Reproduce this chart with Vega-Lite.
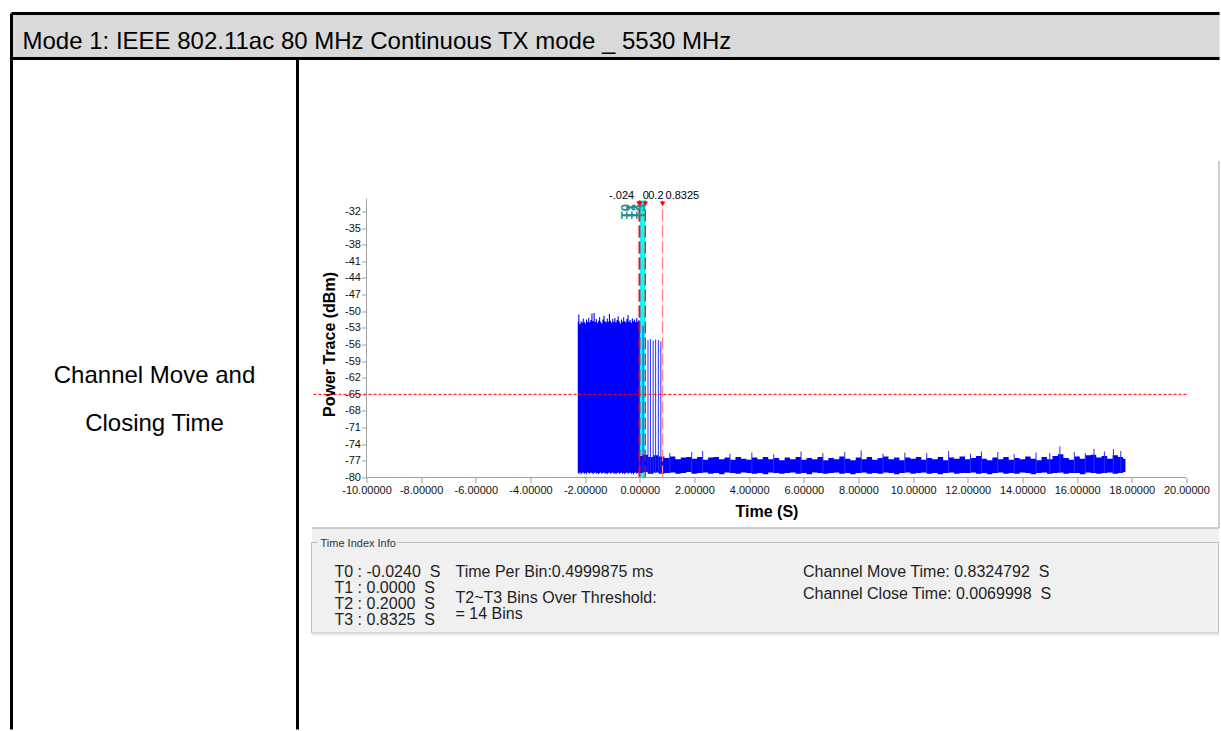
{
  "$schema": "https://vega.github.io/schema/vega-lite/v6.json",
  "padding": {"left": 9.5, "top": 11.5, "right": 0, "bottom": 0},
  "background": "#ffffff",
  "config": {"font": "Liberation Sans", "view": {"stroke": null}, "axis": {"labelOverlap": false}},
  "datasets": {
    "markers": [
      {"marker": "T0", "t": -0.024, "label": "-.024"},
      {"marker": "T1", "t": 0, "label": "0"},
      {"marker": "T2", "t": 0.2, "label": "0.2"},
      {"marker": "T3", "t": 0.8325, "label": "0.8325"}
    ],
    "active": [
      {"t":-2.27,"hi":-51.9,"lo":-79.2},{"t":-2.23,"hi":-50.6,"lo":-79.3},{"t":-2.19,"hi":-52.3,"lo":-79.1},
      {"t":-2.15,"hi":-51.8,"lo":-79.4},{"t":-2.11,"hi":-52.1,"lo":-79.2},{"t":-2.07,"hi":-51.3,"lo":-79.1},
      {"t":-2.03,"hi":-51.9,"lo":-79.3},{"t":-1.99,"hi":-52.2,"lo":-79.2},{"t":-1.95,"hi":-51.5,"lo":-79.4},
      {"t":-1.91,"hi":-51.9,"lo":-79.1},{"t":-1.87,"hi":-51.2,"lo":-79.2},{"t":-1.83,"hi":-52.0,"lo":-79.3},
      {"t":-1.79,"hi":-51.6,"lo":-79.1},{"t":-1.75,"hi":-50.4,"lo":-79.2},{"t":-1.71,"hi":-51.8,"lo":-79.4},
      {"t":-1.67,"hi":-50.3,"lo":-79.2},{"t":-1.63,"hi":-51.9,"lo":-79.1},{"t":-1.59,"hi":-51.4,"lo":-79.3},
      {"t":-1.55,"hi":-52.1,"lo":-79.2},{"t":-1.51,"hi":-51.7,"lo":-79.4},{"t":-1.47,"hi":-51.1,"lo":-79.2},
      {"t":-1.43,"hi":-51.9,"lo":-79.1},{"t":-1.39,"hi":-52.2,"lo":-79.3},{"t":-1.35,"hi":-51.5,"lo":-79.2},
      {"t":-1.31,"hi":-50.8,"lo":-79.1},{"t":-1.27,"hi":-51.8,"lo":-79.3},{"t":-1.23,"hi":-52.0,"lo":-79.2},
      {"t":-1.19,"hi":-51.3,"lo":-79.4},{"t":-1.15,"hi":-51.9,"lo":-79.2},{"t":-1.11,"hi":-50.5,"lo":-79.1},
      {"t":-1.07,"hi":-51.7,"lo":-79.3},{"t":-1.03,"hi":-52.1,"lo":-79.2},{"t":-0.99,"hi":-51.4,"lo":-79.1},
      {"t":-0.95,"hi":-51.9,"lo":-79.3},{"t":-0.91,"hi":-51.2,"lo":-79.2},{"t":-0.87,"hi":-52.0,"lo":-79.4},
      {"t":-0.83,"hi":-51.6,"lo":-79.2},{"t":-0.79,"hi":-50.9,"lo":-79.1},{"t":-0.75,"hi":-51.8,"lo":-79.3},
      {"t":-0.71,"hi":-52.2,"lo":-79.2},{"t":-0.67,"hi":-51.5,"lo":-79.1},{"t":-0.63,"hi":-51.9,"lo":-79.3},
      {"t":-0.59,"hi":-51.1,"lo":-79.2},{"t":-0.55,"hi":-51.8,"lo":-79.4},{"t":-0.51,"hi":-52.0,"lo":-79.2},
      {"t":-0.47,"hi":-51.4,"lo":-79.1},{"t":-0.43,"hi":-50.7,"lo":-79.3},{"t":-0.39,"hi":-51.9,"lo":-79.2},
      {"t":-0.35,"hi":-51.6,"lo":-79.1},{"t":-0.31,"hi":-52.1,"lo":-79.3},{"t":-0.27,"hi":-51.3,"lo":-79.2},
      {"t":-0.23,"hi":-51.8,"lo":-79.4},{"t":-0.19,"hi":-51.5,"lo":-79.2},{"t":-0.15,"hi":-52.0,"lo":-79.1},
      {"t":-0.11,"hi":-51.2,"lo":-79.3},{"t":-0.07,"hi":-51.9,"lo":-79.2},{"t":-0.03,"hi":-51.6,"lo":-79.1},
      {"t":0.0,"hi":-51.8,"lo":-79.2}
    ],
    "noise": [
      {"t":0.0,"hi":-76.1,"lo":-79.2},{"t":0.2,"hi":-75.9,"lo":-79.0},{"t":0.4,"hi":-76.3,"lo":-79.3},
      {"t":0.6,"hi":-76.0,"lo":-79.1},{"t":0.8,"hi":-76.2,"lo":-79.3},{"t":1.0,"hi":-76.5,"lo":-79.2},
      {"t":1.2,"hi":-76.2,"lo":-79.1},{"t":1.4,"hi":-76.7,"lo":-79.3},{"t":1.6,"hi":-76.4,"lo":-79.2},
      {"t":1.8,"hi":-76.3,"lo":-79.0},{"t":2.0,"hi":-76.6,"lo":-79.3},{"t":2.2,"hi":-76.3,"lo":-79.2},
      {"t":2.4,"hi":-76.8,"lo":-79.1},{"t":2.6,"hi":-76.4,"lo":-79.3},{"t":2.8,"hi":-76.3,"lo":-79.2},
      {"t":3.0,"hi":-76.7,"lo":-79.4},{"t":3.2,"hi":-76.4,"lo":-79.1},{"t":3.4,"hi":-76.8,"lo":-79.2},
      {"t":3.6,"hi":-76.3,"lo":-79.3},{"t":3.8,"hi":-76.6,"lo":-79.1},{"t":4.0,"hi":-76.8,"lo":-79.2},
      {"t":4.2,"hi":-76.4,"lo":-79.3},{"t":4.4,"hi":-76.7,"lo":-79.2},{"t":4.6,"hi":-76.3,"lo":-79.4},
      {"t":4.8,"hi":-76.7,"lo":-79.1},{"t":5.0,"hi":-76.5,"lo":-79.2},{"t":5.2,"hi":-76.9,"lo":-79.3},
      {"t":5.4,"hi":-76.4,"lo":-79.2},{"t":5.6,"hi":-76.7,"lo":-79.1},{"t":5.8,"hi":-76.3,"lo":-79.3},
      {"t":6.0,"hi":-76.8,"lo":-79.2},{"t":6.2,"hi":-76.5,"lo":-79.4},{"t":6.4,"hi":-76.7,"lo":-79.1},
      {"t":6.6,"hi":-76.3,"lo":-79.2},{"t":6.8,"hi":-76.9,"lo":-79.3},{"t":7.0,"hi":-76.5,"lo":-79.2},
      {"t":7.2,"hi":-76.7,"lo":-79.1},{"t":7.4,"hi":-76.2,"lo":-79.3},{"t":7.6,"hi":-76.6,"lo":-79.2},
      {"t":7.8,"hi":-76.9,"lo":-79.4},{"t":8.0,"hi":-76.4,"lo":-79.2},{"t":8.2,"hi":-76.7,"lo":-79.1},
      {"t":8.4,"hi":-76.3,"lo":-79.3},{"t":8.6,"hi":-76.8,"lo":-79.2},{"t":8.8,"hi":-76.5,"lo":-79.3},
      {"t":9.0,"hi":-76.2,"lo":-79.1},{"t":9.2,"hi":-76.7,"lo":-79.2},{"t":9.4,"hi":-76.4,"lo":-79.4},
      {"t":9.6,"hi":-76.9,"lo":-79.2},{"t":9.8,"hi":-76.4,"lo":-79.1},{"t":10.0,"hi":-76.6,"lo":-79.3},
      {"t":10.2,"hi":-76.3,"lo":-79.2},{"t":10.4,"hi":-76.8,"lo":-79.1},{"t":10.6,"hi":-76.5,"lo":-79.3},
      {"t":10.8,"hi":-76.7,"lo":-79.2},{"t":11.0,"hi":-76.3,"lo":-79.4},{"t":11.2,"hi":-76.9,"lo":-79.2},
      {"t":11.4,"hi":-76.4,"lo":-79.1},{"t":11.6,"hi":-76.6,"lo":-79.3},{"t":11.8,"hi":-76.2,"lo":-79.2},
      {"t":12.0,"hi":-76.7,"lo":-79.2},{"t":12.2,"hi":-76.5,"lo":-79.1},{"t":12.4,"hi":-76.1,"lo":-79.3},
      {"t":12.6,"hi":-76.6,"lo":-79.2},{"t":12.8,"hi":-76.9,"lo":-79.4},{"t":13.0,"hi":-76.4,"lo":-79.2},
      {"t":13.2,"hi":-76.7,"lo":-79.1},{"t":13.4,"hi":-76.3,"lo":-79.3},{"t":13.6,"hi":-76.8,"lo":-79.2},
      {"t":13.8,"hi":-76.5,"lo":-79.3},{"t":14.0,"hi":-76.7,"lo":-79.1},{"t":14.2,"hi":-76.2,"lo":-79.2},
      {"t":14.4,"hi":-76.6,"lo":-79.4},{"t":14.6,"hi":-76.9,"lo":-79.2},{"t":14.8,"hi":-76.3,"lo":-79.1},
      {"t":15.0,"hi":-76.7,"lo":-79.3},{"t":15.2,"hi":-76.1,"lo":-79.2},{"t":15.4,"hi":-75.8,"lo":-79.1},
      {"t":15.6,"hi":-76.5,"lo":-79.3},{"t":15.8,"hi":-76.8,"lo":-79.2},{"t":16.0,"hi":-76.2,"lo":-79.2},
      {"t":16.2,"hi":-76.6,"lo":-79.4},{"t":16.4,"hi":-76.0,"lo":-79.1},{"t":16.6,"hi":-75.9,"lo":-79.2},
      {"t":16.8,"hi":-76.4,"lo":-79.3},{"t":17.0,"hi":-76.1,"lo":-79.2},{"t":17.2,"hi":-76.6,"lo":-79.1},
      {"t":17.4,"hi":-76.0,"lo":-79.3},{"t":17.6,"hi":-76.3,"lo":-79.2},{"t":17.77,"hi":-76.6,"lo":-79.0}
    ],
    "spikes": [
      {"t":0.12,"hi":-52.6,"lo":-79.2},{"t":0.30,"hi":-55.2,"lo":-79.2},{"t":0.39,"hi":-55.0,"lo":-79.2},
      {"t":0.49,"hi":-55.3,"lo":-79.2},{"t":0.58,"hi":-55.1,"lo":-79.2},{"t":0.68,"hi":-55.2,"lo":-79.2},
      {"t":0.77,"hi":-55.4,"lo":-79.2},
      {"t":1.1,"hi":-75.6,"lo":-79.2},{"t":1.9,"hi":-75.4,"lo":-79.2},{"t":2.3,"hi":-75.2,"lo":-79.2},
      {"t":3.3,"hi":-75.7,"lo":-79.2},{"t":4.1,"hi":-75.5,"lo":-79.2},{"t":4.9,"hi":-75.8,"lo":-79.2},
      {"t":5.9,"hi":-75.3,"lo":-79.2},{"t":6.7,"hi":-75.6,"lo":-79.2},{"t":7.5,"hi":-75.4,"lo":-79.2},
      {"t":8.1,"hi":-75.1,"lo":-79.2},{"t":8.9,"hi":-75.7,"lo":-79.2},{"t":9.7,"hi":-75.5,"lo":-79.2},
      {"t":10.5,"hi":-75.6,"lo":-79.2},{"t":11.3,"hi":-75.2,"lo":-79.2},{"t":12.1,"hi":-75.7,"lo":-79.2},
      {"t":12.5,"hi":-75.3,"lo":-79.2},{"t":13.1,"hi":-75.4,"lo":-79.2},{"t":13.7,"hi":-75.8,"lo":-79.2},
      {"t":14.5,"hi":-75.5,"lo":-79.2},{"t":15.0,"hi":-75.6,"lo":-79.2},{"t":15.37,"hi":-74.4,"lo":-79.2},
      {"t":15.9,"hi":-75.4,"lo":-79.2},{"t":16.3,"hi":-75.6,"lo":-79.2},{"t":16.62,"hi":-74.8,"lo":-79.2},
      {"t":17.0,"hi":-75.3,"lo":-79.2},{"t":17.33,"hi":-74.9,"lo":-79.2},{"t":17.6,"hi":-75.2,"lo":-79.2}
    ]
  },
  "bounds": "flush",
  "spacing": 0,
  "vconcat": [
    {
      "width": 1208,
      "height": 45,
      "view": {"fill": "#d9d9d9", "stroke": "#000000", "strokeWidth": 3, "strokeDash": [1208, 45, 1253, 0]},
      "title": {
        "text": "Mode 1: IEEE 802.11ac 80 MHz Continuous TX mode _ 5530 MHz",
        "anchor": "start", "frame": "group", "offset": -59.5, "dx": 11,
        "baseline": "alphabetic", "fontSize": 24, "fontWeight": "normal",
        "font": "Liberation Sans", "color": "#000000"
      },
      "data": {"values": [{"cell": "header"}]},
      "mark": {"type": "text", "text": ""},
      "encoding": {}
    },
    {
      "bounds": "flush",
      "spacing": 14,
      "hconcat": [
        {
          "width": 286,
          "height": 671,
          "view": {"stroke": "#000000", "strokeWidth": 3, "strokeDash": [957, 286, 671, 0]},
          "data": {"values": [
            {"line": 1, "label": "Channel Move and"},
            {"line": 2, "label": "Closing Time"}
          ]},
          "mark": {"type": "text", "fontSize": 24, "font": "Liberation Sans", "color": "#000000", "align": "center", "baseline": "alphabetic"},
          "encoding": {
            "y": {"field": "line", "type": "quantitative", "scale": {"domain": [1, 2], "range": [324, 372]}, "axis": null},
            "text": {"field": "label", "type": "nominal"}
          }
        },
        {
          "bounds": "flush",
          "spacing": 0,
          "vconcat": [
            {
              "width": 907,
              "height": 469,
              "view": {"stroke": "#a0a0a0", "strokeWidth": 1, "strokeDash": [0, 1009, 367, 1376]},
              "resolve": {"scale": {"x": "independent"}},
              "layer": [
                {
                  "layer": [
                    {
                      "data": {"values": [{"from": "T1", "to": "T2", "start": 0, "end": 0.2}]},
                      "mark": {"type": "rect", "color": "#00ffff"},
                      "encoding": {
                        "x": {
                          "field": "start", "type": "quantitative",
                          "scale": {"domain": [-12.012, 21.175], "nice": false, "zero": false},
                          "axis": {
                            "values": [-10,-8,-6,-4,-2,0,2,4,6,8,10,12,14,16,18,20],
                            "tickCount": 40,
                            "offset": -50, "domain": false, "grid": false,
                            "tickColor": "#a0a0a0", "tickSize": 5,
                            "labelFontSize": 11, "labelColor": "#111111", "labelPadding": 2,
                            "labelExpr": "(datum.value < 0 ? '-' : '') + format(abs(datum.value), '.5f')",
                            "labelFlush": false, "labelOverlap": false,
                            "title": "Time (S)", "titleFontSize": 16, "titleFontWeight": "bold", "titleColor": "#000000",
                            "titleX": 455, "titleY": 34, "titleBaseline": "middle", "titleAlign": "center"
                          }
                        },
                        "x2": {"field": "end"},
                        "y": {"datum": -80, "type": "quantitative"},
                        "y2": {"datum": -30}
                      }
                    },
                    {
                      "data": {"name": "active"},
                      "mark": {"type": "area", "color": "#0000ff", "interpolate": "step"},
                      "encoding": {
                        "x": {"field": "t", "type": "quantitative"},
                        "y": {
                          "field": "hi", "type": "quantitative",
                          "scale": {"domain": [-89.02, -4.40], "nice": false, "zero": false},
                          "axis": {
                            "values": [-80,-77,-74,-71,-68,-65,-62,-59,-56,-53,-50,-47,-44,-41,-38,-35,-32],
                            "tickCount": 40,
                            "offset": -55, "domain": false, "grid": false,
                            "tickColor": "#a0a0a0", "tickSize": 5,
                            "labelFontSize": 11, "labelColor": "#111111", "labelPadding": 1,
                            "labelExpr": "(datum.value < 0 ? '-' : '') + format(abs(datum.value), 'd')",
                            "labelOverlap": false,
                            "title": "Power Trace (dBm)", "titleFontSize": 16, "titleFontWeight": "bold", "titleColor": "#000000",
                            "titleX": -37.5, "titleY": 285.5, "titleBaseline": "middle", "titleAlign": "center", "titleAngle": 270
                          }
                        },
                        "y2": {"field": "lo"}
                      }
                    },
                    {
                      "data": {"name": "noise"},
                      "mark": {"type": "area", "color": "#0000ff", "interpolate": "step"},
                      "encoding": {
                        "x": {"field": "t", "type": "quantitative"},
                        "y": {"field": "hi", "type": "quantitative"},
                        "y2": {"field": "lo"}
                      }
                    },
                    {
                      "data": {"name": "spikes"},
                      "mark": {"type": "rule", "color": "#2a2aff", "strokeWidth": 1},
                      "encoding": {
                        "x": {"field": "t", "type": "quantitative"},
                        "y": {"field": "hi", "type": "quantitative"},
                        "y2": {"field": "lo"}
                      }
                    },
                    {
                      "data": {"values": [{"threshold": -65}]},
                      "mark": {"type": "rule", "color": "#ff0000", "strokeWidth": 1, "strokeDash": [3, 2]},
                      "encoding": {
                        "y": {"field": "threshold", "type": "quantitative"},
                        "x": {"datum": -11.94, "type": "quantitative"},
                        "x2": {"datum": 20}
                      }
                    },
                    {
                      "data": {"name": "markers"},
                      "mark": {"type": "rule", "strokeWidth": 1.2, "strokeDash": [12, 4]},
                      "encoding": {
                        "x": {"field": "t", "type": "quantitative"},
                        "y": {"datum": -80, "type": "quantitative"},
                        "y2": {"datum": -30},
                        "color": {"field": "marker", "type": "nominal", "scale": {"domain": ["T0","T1","T2","T3"], "range": ["#ff0000","#ff0000","#ff0000","#ff8080"]}, "legend": null}
                      }
                    },
                    {
                      "data": {"values": [{"axis": "x"}]},
                      "mark": {"type": "rule", "color": "#a0a0a0", "strokeWidth": 1},
                      "encoding": {
                        "x": {"datum": -10, "type": "quantitative"},
                        "x2": {"datum": 20},
                        "y": {"datum": -80, "type": "quantitative"}
                      }
                    },
                    {
                      "data": {"values": [{"axis": "y"}]},
                      "mark": {"type": "rule", "color": "#a0a0a0", "strokeWidth": 1},
                      "encoding": {
                        "x": {"datum": -10, "type": "quantitative"},
                        "y": {"datum": -80, "type": "quantitative"},
                        "y2": {"datum": -29.7}
                      }
                    },
                    {
                      "data": {"name": "markers"},
                      "mark": {"type": "point", "shape": "triangle-down", "filled": true, "color": "#ff0000", "size": 30, "opacity": 1},
                      "encoding": {
                        "x": {"field": "t", "type": "quantitative"},
                        "y": {"datum": -30.65, "type": "quantitative"}
                      }
                    },
                    {
                      "data": {"name": "markers"},
                      "transform": [{"filter": "datum.marker === 'T0'"}],
                      "mark": {"type": "text", "fontSize": 11, "color": "#000000", "align": "right", "baseline": "middle", "dx": -5},
                      "encoding": {
                        "x": {"field": "t", "type": "quantitative"},
                        "y": {"datum": -29.24, "type": "quantitative"},
                        "text": {"field": "label", "type": "nominal"}
                      }
                    },
                    {
                      "data": {"name": "markers"},
                      "transform": [{"filter": "datum.marker !== 'T0'"}],
                      "mark": {"type": "text", "fontSize": 11, "color": "#000000", "align": "left", "baseline": "middle", "dx": 3},
                      "encoding": {
                        "x": {"field": "t", "type": "quantitative"},
                        "y": {"datum": -29.24, "type": "quantitative"},
                        "text": {"field": "label", "type": "nominal"}
                      }
                    }
                  ]
                },
                {
                  "data": {"name": "markers"},
                  "mark": {"type": "text", "fontSize": 13, "fontWeight": "bold", "color": "#1a8f8f", "angle": 270, "align": "right", "baseline": "middle"},
                  "encoding": {
                    "x": {"field": "marker", "type": "nominal", "scale": {"type": "point", "domain": ["T0","T1","T2","T3"], "range": [314, 329], "padding": 0}, "axis": null},
                    "y": {"datum": -30.65, "type": "quantitative"},
                    "text": {"field": "marker", "type": "nominal"}
                  }
                }
              ]
            },
            {
              "width": 907,
              "height": 108,
              "view": {"fill": "#f0f0f0", "stroke": "#a0a0a0", "strokeWidth": 1, "strokeDash": [907, 1123]},
              "layer": [
                {
                  "data": {"values": [{"col": 0, "line": 0, "text": "Time Index Info"}]},
                  "mark": {"type": "text", "fontSize": 11, "color": "#333333", "align": "left", "baseline": "middle"},
                  "encoding": {
                    "x": {"field": "col", "type": "quantitative", "scale": {"domain": [0, 1, 2, 3], "range": [9, 23, 144, 491.5], "nice": false, "zero": false}, "axis": null},
                    "y": {"field": "line", "type": "quantitative", "scale": {"domain": [0, 1, 2], "range": [16, 36, 62.7], "nice": false, "zero": false}, "axis": null},
                    "text": {"field": "text", "type": "nominal"}
                  }
                },
                {
                  "data": {"values": [{"box": "Time Index Info"}]},
                  "mark": {"type": "rect", "filled": false, "color": "#c0c0c0", "strokeWidth": 1, "strokeDash": [6, 80, 5000]},
                  "encoding": {
                    "y": {"datum": -0.05, "type": "quantitative"},
                    "y2": {"datum": 3.6}
                  }
                },
                {
                  "data": {"values": [{"col": 1, "line": 1, "text": ["T0 : -0.0240\u00a0 S", "T1 : 0.0000\u00a0 S", "T2 : 0.2000\u00a0 S", "T3 : 0.8325\u00a0 S"]}]},
                  "mark": {"type": "text", "fontSize": 16, "color": "#1e1e1e", "align": "left", "baseline": "top", "lineHeight": 16.2},
                  "encoding": {
                    "x": {"field": "col", "type": "quantitative"},
                    "y": {"field": "line", "type": "quantitative"},
                    "text": {"field": "text", "type": "nominal"}
                  }
                },
                {
                  "data": {"values": [{"col": 2, "line": 1, "text": "Time Per Bin:0.4999875 ms"}]},
                  "mark": {"type": "text", "fontSize": 16, "color": "#1e1e1e", "align": "left", "baseline": "top"},
                  "encoding": {
                    "x": {"field": "col", "type": "quantitative"},
                    "y": {"field": "line", "type": "quantitative"},
                    "text": {"field": "text", "type": "nominal"}
                  }
                },
                {
                  "data": {"values": [{"col": 2, "line": 2, "text": ["T2~T3 Bins Over Threshold:", "= 14 Bins"]}]},
                  "mark": {"type": "text", "fontSize": 16, "color": "#1e1e1e", "align": "left", "baseline": "top", "lineHeight": 16},
                  "encoding": {
                    "x": {"field": "col", "type": "quantitative"},
                    "y": {"field": "line", "type": "quantitative"},
                    "text": {"field": "text", "type": "nominal"}
                  }
                },
                {
                  "data": {"values": [{"col": 3, "line": 1, "text": ["Channel Move Time: 0.8324792\u00a0 S", "Channel Close Time: 0.0069998\u00a0 S"]}]},
                  "mark": {"type": "text", "fontSize": 16, "color": "#1e1e1e", "align": "left", "baseline": "top", "lineHeight": 22.6},
                  "encoding": {
                    "x": {"field": "col", "type": "quantitative"},
                    "y": {"field": "line", "type": "quantitative"},
                    "text": {"field": "text", "type": "nominal"}
                  }
                }
              ]
            }
          ]
        }
      ]
    }
  ]
}
